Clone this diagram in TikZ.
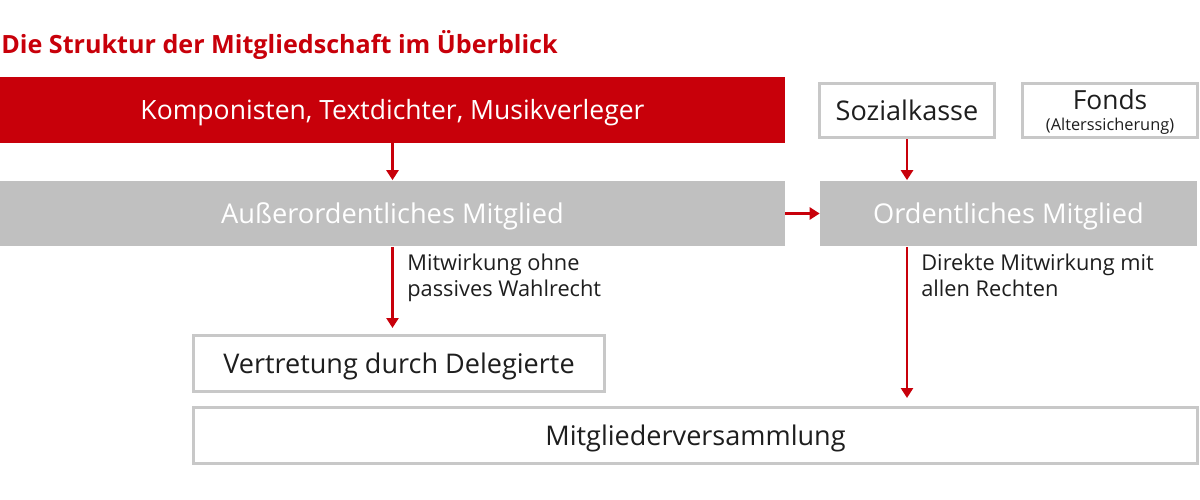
\documentclass[tikz,border=0pt]{standalone}
\usepackage{fontspec}
\setmainfont{Open Sans}
\usetikzlibrary{arrows.meta}
\definecolor{gemared}{HTML}{C8000A}
\definecolor{boxgray}{HTML}{C0C0C0}
\definecolor{linegray}{HTML}{C8C8C8}
\definecolor{txt}{HTML}{1E1E1E}
\tikzset{
  base/.style={inner sep=0pt, text height=0.4cm, text depth=0cm},
  redbox/.style={base, fill=gemared, draw=none, text=white, font=\fontsize{15.1}{18}\selectfont},
  graybox/.style={base, fill=boxgray, draw=none, text=white, font=\fontsize{15.5}{18}\selectfont},
  whitebox/.style={base, draw=linegray, line width=0.06cm, fill=white, text=txt, font=\fontsize{15.4}{17}\selectfont},
  arr/.style={draw=gemared, line width=0.055cm, -{Triangle[length=0.2cm,width=0.24cm]}},
  lbl/.style={text=txt, inner sep=0pt, align=left, font=\fontsize{12.4}{14.8}\selectfont}
}
\begin{document}
\begin{tikzpicture}[x=0.02cm,y=-0.02cm]
\useasboundingbox (0,0) rectangle (1200,500);
\node[anchor=west, inner sep=0pt, text=gemared, font=\bfseries\fontsize{14.3}{16}\selectfont] (title) at (1,45) {Die Struktur der Mitgliedschaft im Überblick};
\node[redbox, minimum width=15.7cm, minimum height=1.32cm] (red) at (392.5,110) {Komponisten, Textdichter, Musikverleger};
\node[whitebox, minimum width=3.5cm, minimum height=1.1cm] (sk) at (907,110.5) {Sozialkasse};
\node[whitebox, minimum width=3.5cm, minimum height=1.1cm] (fonds) at (1110,110.5) {};
\node[anchor=base, inner sep=0pt, text=txt, font=\fontsize{15}{17}\selectfont] (fondsA) at (1110,110) {Fonds};
\node[anchor=base, inner sep=0pt, text=txt, font=\fontsize{9.3}{10}\selectfont] (fondsB) at (1110,131) {(Alterssicherung)};
\node[graybox, minimum width=15.7cm, minimum height=1.32cm] (aom) at (392.5,213.5) {Außerordentliches Mitglied};
\node[graybox, minimum width=7.54cm, minimum height=1.32cm] (om) at (1008.5,213.5) {Ordentliches Mitglied};
\node[whitebox, minimum width=8.22cm, minimum height=1.12cm] (vd) at (399,363.5) {Vertretung durch Delegierte};
\node[whitebox, minimum width=20.08cm, minimum height=1.12cm] (mv) at (695.5,435.5) {Mitgliederversammlung};
\draw[arr] (red.south) -- (aom.north);
\draw[arr] (sk.south) -- (sk.south |- om.north);
\draw[arr] (aom.east) -- (om.west);
\draw[arr, shorten >=0.12cm] (aom.south) -- (aom.south |- vd.north);
\draw[arr, shorten >=0.16cm] (sk.south |- om.south) -- (sk.south |- mv.north);
\node[lbl, anchor=north west] (l1) at (407,254) {Mitwirkung ohne\\passives Wahlrecht};
\node[lbl, anchor=north west] (l2) at (921,254) {Direkte Mitwirkung mit\\allen Rechten};
\end{tikzpicture}
\end{document}
